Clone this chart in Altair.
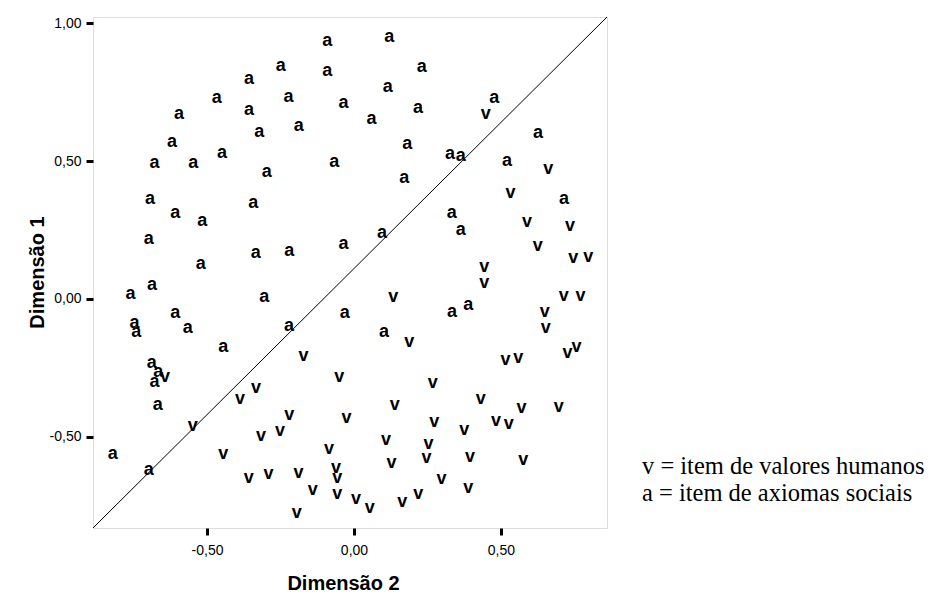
import altair as alt
import pandas as pd

# "a" items (social axioms): Dimensão 2 (x), Dimensão 1 (y)
a_x = [-0.091, -0.249, -0.091, -0.357, -0.467, -0.223, -0.036, -0.595, -0.357, -0.322,
       -0.188, -0.619, -0.449, -0.679, -0.547, -0.067, -0.297, 0.120, 0.231, 0.115,
       0.218, 0.060, 0.477, 0.626, 0.181, 0.327, 0.363, 0.521, 0.171, -0.694,
       -0.343, -0.608, -0.516, -0.698, -0.334, -0.220, -0.036, -0.521, -0.687, -0.760,
       -0.305, -0.608, -0.031, -0.747, -0.741, -0.566, -0.221, -0.445, -0.688, 0.095,
       0.715, 0.333, 0.363, 0.334, 0.389, 0.102, -0.666, -0.679, -0.668, -0.821,
       -0.698]
a_y = [0.936, 0.845, 0.826, 0.797, 0.727, 0.733, 0.709, 0.669, 0.685, 0.606,
       0.627, 0.568, 0.528, 0.494, 0.494, 0.495, 0.459, 0.948, 0.839, 0.767,
       0.692, 0.651, 0.728, 0.600, 0.562, 0.525, 0.519, 0.501, 0.437, 0.361,
       0.347, 0.311, 0.283, 0.218, 0.166, 0.174, 0.198, 0.126, 0.050, 0.017,
       0.006, -0.052, -0.052, -0.086, -0.118, -0.106, -0.098, -0.173, -0.233, 0.238,
       0.361, 0.311, 0.250, -0.048, -0.022, -0.118, -0.263, -0.300, -0.384, -0.562,
       -0.620]

# "v" items (human values)
v_x = [0.448, 0.661, 0.533, 0.589, 0.735, 0.625, 0.746, 0.797, 0.443, 0.443,
       0.134, 0.714, 0.771, 0.649, 0.653, 0.188, 0.516, 0.559, 0.727, 0.757,
       -0.172, -0.643, -0.050, -0.333, -0.388, -0.220, -0.025, -0.549, -0.252, -0.316,
       -0.445, -0.085, -0.358, -0.291, -0.189, -0.061, -0.057, -0.140, -0.057, -0.195,
       0.268, 0.431, 0.139, 0.570, 0.697, 0.273, 0.483, 0.527, 0.375, 0.109,
       0.254, 0.128, 0.247, 0.395, 0.576, 0.298, 0.389, 0.007, 0.054, 0.164,
       0.219]
v_y = [0.670, 0.470, 0.385, 0.280, 0.264, 0.192, 0.147, 0.153, 0.115, 0.057,
       0.008, 0.011, 0.011, -0.048, -0.104, -0.157, -0.221, -0.215, -0.197, -0.173,
       -0.207, -0.282, -0.282, -0.324, -0.363, -0.420, -0.430, -0.460, -0.478, -0.495,
       -0.563, -0.543, -0.650, -0.635, -0.629, -0.613, -0.650, -0.692, -0.707, -0.774,
       -0.305, -0.363, -0.384, -0.396, -0.390, -0.445, -0.442, -0.454, -0.475, -0.511,
       -0.526, -0.595, -0.577, -0.571, -0.583, -0.653, -0.684, -0.725, -0.758, -0.734,
       -0.708]

x_domain = [-0.888, 0.861]
y_domain = [-0.830, 1.022]
x_ticks = [-0.5, 0.0, 0.5]
y_ticks = [-0.5, 0.0, 0.5, 1.0]
legend_lines = ["v = item de valores humanos", "a = item de axiomas sociais"]

df = pd.DataFrame({
    "d2": a_x + v_x,
    "d1": a_y + v_y,
    "item": ["a"] * len(a_x) + ["v"] * len(v_x),
})

label_expr = "(datum.value < 0 ? '-' : '') + replace(format(abs(datum.value), '.2f'), '.', ',')"

x_enc = alt.X("d2:Q", scale=alt.Scale(domain=x_domain, nice=False, zero=False),
              axis=alt.Axis(title="Dimensão 2", values=x_ticks, labelExpr=label_expr,
                            grid=False, domain=False, tickColor="black", tickWidth=3,
                            tickSize=7, labelPadding=8, labelFontSize=14,
                            labelFont="Liberation Sans", labelColor="black",
                            titleFont="Liberation Sans", titleFontSize=20,
                            titleFontWeight="bold", titleColor="black",
                            titleX=250, titleY=55, titleBaseline="middle"))
y_enc = alt.Y("d1:Q", scale=alt.Scale(domain=y_domain, nice=False, zero=False),
              axis=alt.Axis(title="Dimensão 1", values=y_ticks, labelExpr=label_expr,
                            grid=False, domain=False, tickColor="black", tickWidth=3,
                            tickSize=7, labelPadding=5, labelFontSize=14,
                            labelFont="Liberation Sans", labelColor="black",
                            titleFont="Liberation Sans", titleFontSize=20,
                            titleFontWeight="bold", titleColor="black",
                            titleX=-56, titleY=255, titleBaseline="middle"))

points = alt.Chart(df).mark_text(
    font="Liberation Sans", fontWeight="bold", fontSize=18, color="black"
).encode(x=x_enc, y=y_enc, text="item:N")

diag = alt.Chart(pd.DataFrame({"x": [x_domain[0]], "y": [y_domain[0]],
                               "x2": [x_domain[1]], "y2": [y_domain[1]]})).mark_rule(
    color="black", strokeWidth=1
).encode(x="x:Q", y="y:Q", x2="x2:Q", y2="y2:Q")

legend1 = alt.Chart(pd.DataFrame({"txt": [legend_lines[0]]})).mark_text(
    font="Liberation Serif", fontSize=24.5, color="black", align="left", baseline="middle"
).encode(x=alt.value(549), y=alt.value(450), text="txt:N")
legend2 = alt.Chart(pd.DataFrame({"txt": [legend_lines[1]]})).mark_text(
    font="Liberation Serif", fontSize=24.5, color="black", align="left", baseline="middle"
).encode(x=alt.value(549), y=alt.value(477), text="txt:N")

chart = alt.layer(diag, points, legend1, legend2).properties(
    width=514, height=511,
    padding={"left": 85, "top": 9, "right": 320, "bottom": 75},
    autosize=alt.AutoSizeParams(type="none"),
).configure_view(stroke="#808080", strokeWidth=1.5).configure(background="white")

chart.save("out.html", embed_options={"renderer": "svg", "actions": False})
